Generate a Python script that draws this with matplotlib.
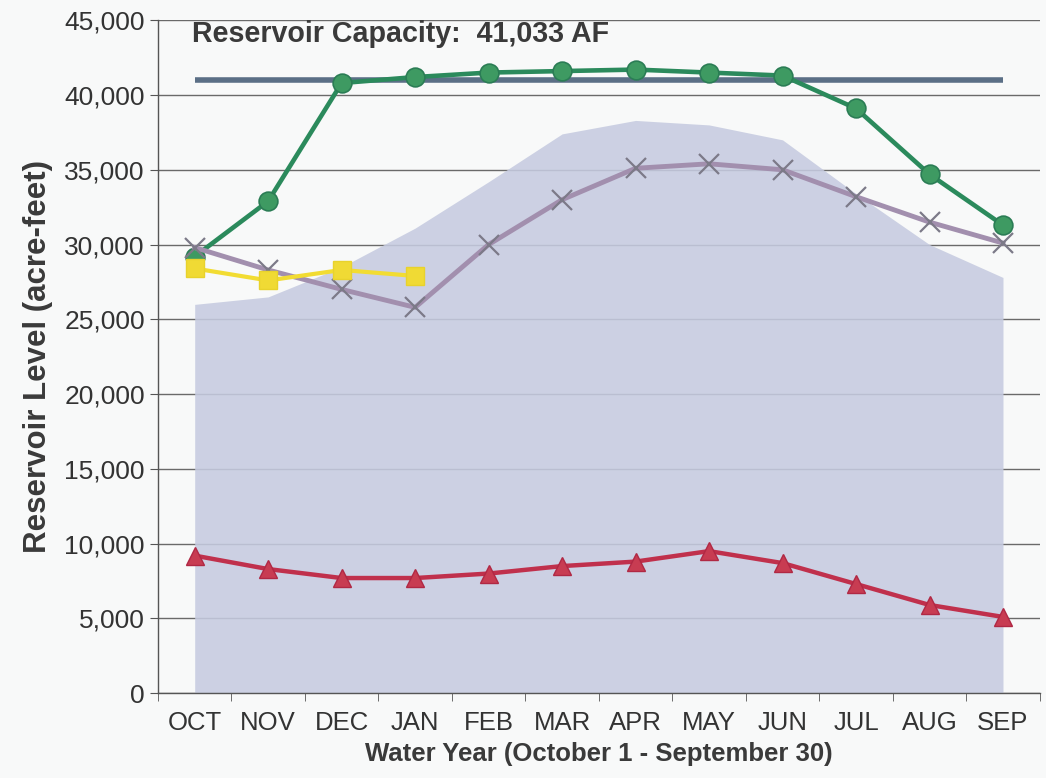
import matplotlib
matplotlib.use("Agg")
import matplotlib.pyplot as plt
from matplotlib.ticker import FuncFormatter, FixedLocator

plt.rcParams['font.family'] = ['Liberation Sans', 'DejaVu Sans']

months = ["OCT", "NOV", "DEC", "JAN", "FEB", "MAR", "APR", "MAY", "JUN", "JUL", "AUG", "SEP"]
area_values = [26000, 26500, 28500, 31100, 34200, 37400, 38300, 38000, 37000, 33400, 30000, 27800]
capacity = 41033
capacity_line = [capacity] * 12
green_values = [29200, 32900, 40800, 41200, 41500, 41600, 41700, 41500, 41300, 39100, 34700, 31300]
purple_values = [29800, 28300, 27000, 25800, 30000, 33000, 35100, 35400, 35000, 33200, 31500, 30100]
yellow_values = [28400, 27600, 28300, 27900]
red_values = [9200, 8300, 7700, 7700, 8000, 8500, 8800, 9500, 8700, 7300, 5900, 5100]
y_ticks = list(range(0, 45001, 5000))

bg = '#f8f9f9'
fig = plt.figure(figsize=(10.46, 7.78), dpi=100, facecolor=bg)
ax = fig.add_axes([0.151, 0.109, 0.843, 0.865])
ax.set_facecolor(bg)

x = list(range(len(months)))
ax.set_xlim(-0.5, 11.5)
ax.set_ylim(0, 45000)

ax.yaxis.set_major_locator(FixedLocator(y_ticks))
ax.yaxis.set_major_formatter(FuncFormatter(lambda v, p: f"{int(v):,}"))
ax.grid(axis='y', color='#6a6a6a', linewidth=1.0, zorder=0)
ax.set_axisbelow(True)

ax.fill_between(x, 0, area_values, color='#c6cbe0', alpha=0.88, linewidth=0, zorder=1)

ax.plot(x, capacity_line, color='#5b6f86', linewidth=4, zorder=2, solid_capstyle='butt')

ax.plot(x, green_values, color='#2b8a5c', linewidth=3.3, marker='o', markersize=13.5,
        markerfacecolor='#3e9a62', markeredgecolor='#2b7d55', markeredgewidth=1.2, zorder=3)
ax.plot(x, purple_values, color='#a28fae', linewidth=3.5, marker='x', markersize=14,
        markeredgecolor='#7c7a88', markeredgewidth=1.6, zorder=4)
ax.plot(x[:len(yellow_values)], yellow_values, color='#f2dc32', linewidth=3, marker='s', markersize=12.5,
        markerfacecolor='#f0da34', markeredgecolor='#e8d22c', zorder=5)
ax.plot(x, red_values, color='#c0304c', linewidth=3.2, marker='^', markersize=12.5,
        markerfacecolor='#c83c52', markeredgecolor='#b02844', markeredgewidth=1.0, zorder=5)

ax.set_xticks(x)
ax.set_xticklabels(months)
ax.set_xticks([i - 0.5 for i in range(13)], minor=True)
ax.tick_params(axis='x', which='major', length=0, labelsize=18.5, colors='#333333', pad=13)
ax.tick_params(axis='x', which='minor', length=6, color='#555555', direction='out')
ax.tick_params(axis='y', length=6, color='#555555', labelsize=19, labelcolor='#333333')

for s in ['top', 'right']:
    ax.spines[s].set_visible(False)
for s in ['left', 'bottom']:
    ax.spines[s].set_color('#555555')
    ax.spines[s].set_linewidth(1.0)

ax.set_ylabel('Reservoir Level (acre-feet)', fontsize=22.5, fontweight='bold', color='#3a3a3a', labelpad=8)
ax.set_xlabel('Water Year (October 1 - September 30)', fontsize=18.5, fontweight='bold', color='#3a3a3a', labelpad=5)

ax.text(-0.04, 44100, 'Reservoir Capacity:  41,033 AF', fontsize=20.6, fontweight='bold',
        color='#3a3a3a', ha='left', va='center', zorder=6)

fig.savefig('out.png', dpi=100, facecolor=bg)
